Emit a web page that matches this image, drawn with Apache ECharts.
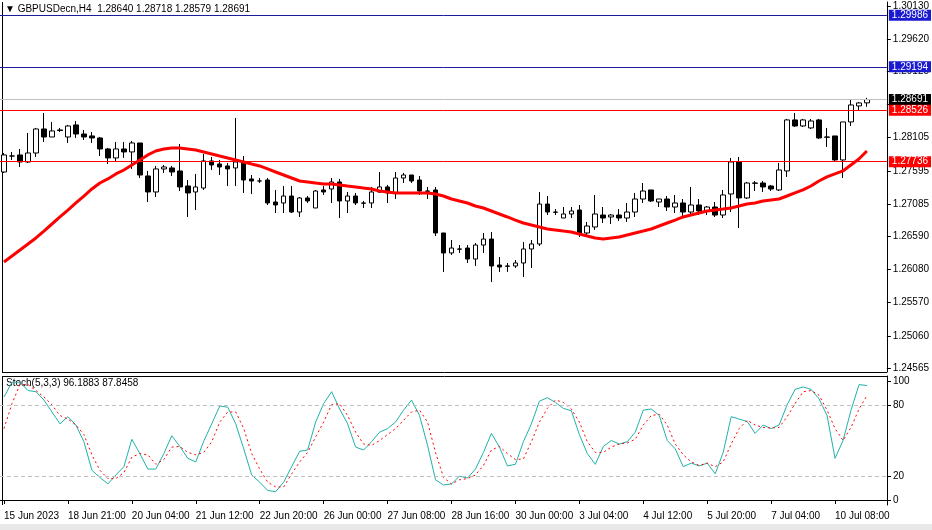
<!DOCTYPE html>
<html><head><meta charset="utf-8">
<script src="https://cdn.jsdelivr.net/npm/echarts@6/dist/echarts.min.js"></script>
<style>html,body{margin:0;padding:0;background:#fff}#c{width:932px;height:530px}</style>
</head><body><div id="c"></div>
<script>
const timeLabels = ["15 Jun 2023","18 Jun 21:00","20 Jun 04:00","21 Jun 12:00","22 Jun 20:00","26 Jun 00:00","27 Jun 08:00","28 Jun 16:00","30 Jun 00:00","3 Jul 04:00","4 Jul 12:00","5 Jul 20:00","7 Jul 04:00","10 Jul 08:00"];
const opens = [1.27578,1.27824,1.27840,1.27732,1.27870,1.28239,1.28116,1.28224,1.28116,1.28301,1.28162,1.28132,1.28101,1.27932,1.27794,1.27932,1.27886,1.28024,1.27517,1.27271,1.27625,1.27640,1.27594,1.27363,1.27271,1.27332,1.27748,1.27701,1.27671,1.27640,1.27732,1.27471,1.27440,1.27455,1.27117,1.27102,1.27209,1.26963,1.27179,1.27025,1.27302,1.27317,1.27425,1.27133,1.27209,1.27102,1.27102,1.27271,1.27348,1.27256,1.27486,1.27532,1.27455,1.27286,1.27302,1.26641,1.26334,1.26395,1.26410,1.26241,1.26456,1.26548,1.26149,1.26134,1.26134,1.26180,1.26395,1.26472,1.27086,1.26963,1.26871,1.26933,1.26994,1.26641,1.26733,1.26917,1.26887,1.26917,1.26871,1.26963,1.27163,1.27302,1.27117,1.27163,1.27040,1.27102,1.26963,1.27071,1.26979,1.27040,1.26917,1.27240,1.27732,1.27179,1.27409,1.27409,1.27363,1.27302,1.27594,1.28378,1.28285,1.28255,1.28378,1.28116,1.28132,1.27763,1.28347,1.28593,1.28640];
const closes = [1.27840,1.27824,1.27732,1.27870,1.28239,1.28116,1.28209,1.28216,1.28285,1.28162,1.28116,1.28101,1.27932,1.27794,1.27932,1.27886,1.28024,1.27532,1.27271,1.27625,1.27655,1.27578,1.27348,1.27256,1.27348,1.27748,1.27686,1.27655,1.27625,1.27732,1.27455,1.27440,1.27440,1.27102,1.27071,1.27209,1.26963,1.27179,1.27133,1.27286,1.27271,1.27425,1.27133,1.27209,1.27102,1.27098,1.27271,1.27348,1.27256,1.27486,1.27532,1.27440,1.27286,1.27282,1.26641,1.26334,1.26410,1.26392,1.26241,1.26456,1.26548,1.26134,1.26118,1.26130,1.26180,1.26395,1.26472,1.27086,1.26963,1.26960,1.26933,1.26979,1.26641,1.26748,1.26933,1.26871,1.26917,1.26871,1.26963,1.27163,1.27286,1.27133,1.27163,1.27040,1.27102,1.26963,1.27071,1.26979,1.27040,1.26917,1.27225,1.27732,1.27179,1.27409,1.27405,1.27348,1.27317,1.27609,1.28378,1.28285,1.28378,1.28362,1.28101,1.28112,1.27763,1.28347,1.28608,1.28639,1.28691];
const highs = [1.27870,1.27886,1.27932,1.28178,1.28255,1.28485,1.28347,1.28255,1.28301,1.28362,1.28224,1.28193,1.28116,1.27947,1.28039,1.28039,1.28055,1.28024,1.27594,1.27671,1.27686,1.27671,1.28009,1.27455,1.27548,1.27855,1.27809,1.27763,1.27717,1.28408,1.27824,1.27532,1.27486,1.27486,1.27302,1.27363,1.27363,1.27194,1.27209,1.27302,1.27363,1.27486,1.27471,1.27271,1.27256,1.27133,1.27348,1.27578,1.27379,1.27578,1.27563,1.27532,1.27517,1.27348,1.27348,1.26641,1.26533,1.26456,1.26456,1.26487,1.26641,1.26656,1.26272,1.26180,1.26226,1.26502,1.26533,1.27271,1.27209,1.27009,1.27040,1.27040,1.27071,1.26810,1.27225,1.27040,1.26933,1.27009,1.27102,1.27256,1.27409,1.27302,1.27163,1.27209,1.27225,1.27163,1.27348,1.27163,1.27056,1.27117,1.27302,1.27794,1.27809,1.27425,1.27440,1.27440,1.27379,1.27717,1.28393,1.28485,1.28393,1.28393,1.28393,1.28255,1.28132,1.28347,1.28685,1.28654,1.28718];
const lows = [1.27563,1.27763,1.27655,1.27717,1.27809,1.28039,1.28116,1.28193,1.28024,1.28101,1.28070,1.28024,1.27824,1.27701,1.27732,1.27794,1.27625,1.27486,1.27117,1.27194,1.27563,1.27517,1.27286,1.26887,1.26994,1.27302,1.27609,1.27532,1.27363,1.27363,1.27256,1.27240,1.27409,1.27071,1.26948,1.26948,1.26948,1.26887,1.27102,1.27025,1.27225,1.27102,1.26871,1.26948,1.27071,1.27025,1.27025,1.27256,1.27102,1.27163,1.27409,1.27409,1.27225,1.27163,1.26594,1.26042,1.26303,1.26334,1.26180,1.26134,1.26334,1.25888,1.26042,1.26042,1.26103,1.25965,1.26103,1.26441,1.26917,1.26917,1.26871,1.26871,1.26579,1.26594,1.26687,1.26794,1.26779,1.26825,1.26810,1.26887,1.27102,1.27117,1.27040,1.26979,1.26948,1.26871,1.26933,1.26917,1.26917,1.26887,1.26871,1.26963,1.26717,1.27163,1.27286,1.27271,1.27286,1.27286,1.27502,1.28270,1.28270,1.28239,1.28085,1.27963,1.27748,1.27486,1.28285,1.28531,1.28579];
const maValues = [1.26195,1.26287,1.26380,1.26472,1.26564,1.26671,1.26779,1.26887,1.26994,1.27102,1.27209,1.27317,1.27409,1.27471,1.27548,1.27609,1.27686,1.27763,1.27840,1.27901,1.27932,1.27947,1.27947,1.27932,1.27917,1.27886,1.27855,1.27824,1.27794,1.27763,1.27732,1.27701,1.27671,1.27625,1.27578,1.27532,1.27486,1.27440,1.27425,1.27409,1.27394,1.27394,1.27379,1.27363,1.27348,1.27332,1.27317,1.27286,1.27271,1.27256,1.27256,1.27256,1.27256,1.27256,1.27240,1.27209,1.27163,1.27133,1.27102,1.27056,1.27025,1.26979,1.26933,1.26887,1.26840,1.26794,1.26764,1.26733,1.26702,1.26687,1.26671,1.26656,1.26625,1.26594,1.26564,1.26548,1.26564,1.26579,1.26610,1.26641,1.26671,1.26702,1.26748,1.26794,1.26840,1.26887,1.26917,1.26948,1.26979,1.26994,1.27009,1.27025,1.27056,1.27086,1.27102,1.27133,1.27148,1.27163,1.27209,1.27256,1.27302,1.27363,1.27440,1.27502,1.27548,1.27594,1.27686,1.27778,1.27901];
const stochMain = [86.5,99,99,92,91,84,74,64,70,63,49,25,19,13.5,21,28,51,39,26,26,39,54,45,35,32,49.5,64,79,78,64,43,21,15,8,7,15,28,41,42,65.5,81,91,76.5,64,44.5,42,49,57,60,65.5,75.5,84,71,46,17,12.6,13.5,20,18.5,26,40,56,44.5,28.6,30,49,64,83,86,82,77,75,55,39,30,45,50,47,49,57,75.5,76.5,71,50,43,28,31,28.6,31,22,40,70,68,66,56,63,60,63,80,93,95,93,85,71,35,50,75.5,97,96.1883];
const stochSignal = [60,81,97,97,92,86.5,80,71,68,63,55,38,25,18,18,23,36,39,38,30,34,44.5,45,40,38,40,49,65.5,74,74,60,39,26,15,11,11,22,32,40,53,65.5,80,81,71,57,47,46,50,55,60,67,74,75.5,65.5,40,19,13.5,17,18,21,29,42,45,39,34,34.5,49,65.5,77,84,82,76.5,65.5,49,40,40,44.5,47,48,51,63,71,72,63,47,38,32,29,31,28,32,47,60,67,63,61,60.5,61,70,81,91,92,88,75.5,60,50,61,76.5,87.8458];
const priceTicks = [1.30130,1.29620,1.29125,1.28615,1.28105,1.27595,1.27085,1.26590,1.26080,1.25570,1.25060,1.24565];
const stochTicks = [0,20,80,100];
const levelsRed = [1.28526,1.27736];
const levelsBlue = [1.29986,1.29194];
const lastPrice = 1.28691;

const N = 111;
const cats = [];
for (let i = 0; i < N; i++) cats.push(i % 8 === 0 && timeLabels[i/8] ? timeLabels[i/8] : '');
const candles = opens.map((o,i)=>[o, closes[i], lows[i], highs[i]]);
const F = '"Liberation Sans", Arial, sans-serif';
const FS = 10;

function lvl(v, lineColor, bg){
  return {yAxis: v, lineStyle:{color:lineColor, width:1, type:'solid'},
    label:{show:true, position:'end', distance:2, formatter: v.toFixed(5), color:'#fff', backgroundColor:bg,
      padding:[1,3,0,3], fontSize:FS, fontFamily:F}};
}

const chart = echarts.init(document.getElementById('c'), null, {renderer:'canvas'});
chart.setOption({
  animation:false,
  backgroundColor:'#fff',
  grid:[{left:-1, top:2, width:888, height:370, show:false},
        {left:-1, top:376, width:888, height:129, show:false}],
  xAxis:[
    {type:'category', gridIndex:0, data:cats, boundaryGap:true, axisLine:{show:false}, axisTick:{show:false}, axisLabel:{show:false}},
    {type:'category', gridIndex:1, data:cats, boundaryGap:true, position:'bottom',
     axisLine:{show:true, lineStyle:{color:'#000'}},
     axisTick:{show:true, alignWithLabel:true, length:4, interval:(i,v)=>v!=='', lineStyle:{color:'#000'}},
     axisLabel:{show:true, interval:(i,v)=>v!=='', showMinLabel:true, hideOverlap:false, align:'left', margin:6, fontSize:FS, fontFamily:F, color:'#000'}}
  ],
  yAxis:[
    {type:'value', gridIndex:0, position:'right', min:1.24565-0.0006, max:1.30130+0.0006,
     splitLine:{show:false}, axisLine:{show:true, lineStyle:{color:'#000'}},
     axisTick:{show:true, length:4, customValues:priceTicks, lineStyle:{color:'#000'}},
     axisLabel:{customValues:priceTicks, formatter:v=>v.toFixed(5), fontSize:FS, fontFamily:F, color:'#000', margin:6}},
    {type:'value', gridIndex:1, position:'right', min:-4.2, max:104.2,
     splitLine:{show:false}, axisLine:{show:true, lineStyle:{color:'#000'}},
     axisTick:{show:true, length:4, customValues:stochTicks, lineStyle:{color:'#000'}},
     axisLabel:{customValues:stochTicks, fontSize:FS, fontFamily:F, color:'#000', margin:6}}
  ],
  series:[
    {type:'candlestick', xAxisIndex:0, yAxisIndex:0, data:candles, barWidth:5,
     itemStyle:{color:'#fff', color0:'#000', borderColor:'#000', borderColor0:'#000', borderWidth:1}},
    {type:'line', xAxisIndex:0, yAxisIndex:0, data:maValues, showSymbol:false, lineStyle:{color:'#ff0000', width:3}, z:3,
     markLine:{symbol:['none','none'], silent:true, animation:false, precision:5,
       data:[lvl(levelsBlue[0],'#1c1c9c','#1a1ad0'), lvl(levelsBlue[1],'#1c1c9c','#1a1ad0'),
             lvl(lastPrice,'#c0c0c0','#000'),
             lvl(levelsRed[0],'#ff0000','#ff0000'), lvl(levelsRed[1],'#ff0000','#ff0000')]}},
    {type:'line', xAxisIndex:1, yAxisIndex:1, data:stochMain, showSymbol:false, lineStyle:{color:'#20b2aa', width:1},
     markLine:{symbol:['none','none'], silent:true, label:{show:false},
       data:[{yAxis:20},{yAxis:80}], lineStyle:{color:'#c0c0c0', type:[4,3], width:1}}},
    {type:'line', xAxisIndex:1, yAxisIndex:1, data:stochSignal, showSymbol:false, lineStyle:{color:'#ff0000', width:1, type:[2,3]}}
  ],
  graphic:[
    {type:'line', shape:{x1:2.5,y1:2,x2:2.5,y2:372}, style:{stroke:'#000', lineWidth:1}},
    {type:'line', shape:{x1:2,y1:372.5,x2:887,y2:372.5}, style:{stroke:'#000', lineWidth:1}},
    {type:'line', shape:{x1:2,y1:376.5,x2:887,y2:376.5}, style:{stroke:'#000', lineWidth:1}},
    {type:'line', shape:{x1:2.5,y1:376,x2:2.5,y2:505}, style:{stroke:'#000', lineWidth:1}},
    {type:'text', left:5, top:4, style:{text:'▼ GBPUSDecn,H4  1.28640 1.28718 1.28579 1.28691', font:FS+'px '+F, fill:'#000'}},
    {type:'text', left:6, top:378, style:{text:'Stoch(5,3,3) 96.1883 87.8458', font:FS+'px '+F, fill:'#000'}},
    {type:'rect', shape:{x:0,y:524,width:932,height:6}, style:{fill:'#e8e8e8'}}
  ]
});
</script></body></html>
